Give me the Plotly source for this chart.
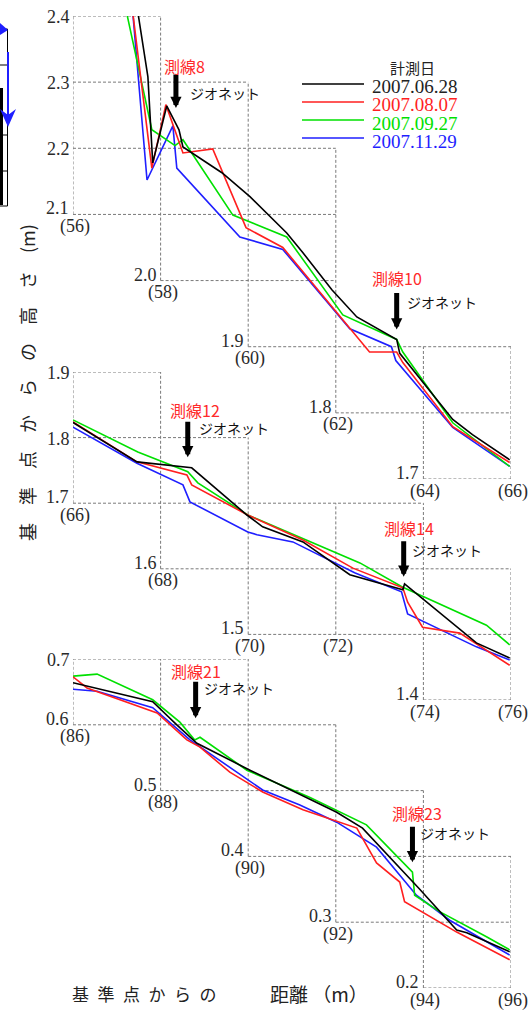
import plotly.graph_objects as go

# ---------------- data ----------------
dates = ["2007.06.28", "2007.08.07", "2007.09.27", "2007.11.29"]
colors = ["#000000", "#ff1f1f", "#00e000", "#1f1fff"]

# Section 1 : distance 56-66 m (測線8, 測線10)
s1_black_x = [57.40, 57.71, 57.82, 58.14, 58.42, 58.51, 59.40, 60.04, 60.88, 61.25, 61.91, 62.48, 63.39, 63.46, 64.67, 65.12, 65.97]
s1_black_y = [2.44, 2.308, 2.178, 2.264, 2.228, 2.202, 2.163, 2.127, 2.072, 2.042, 1.986, 1.945, 1.911, 1.890, 1.790, 1.767, 1.729]
s1_red_x = [57.30, 57.80, 58.12, 58.51, 59.19, 59.95, 60.79, 62.77, 63.39, 63.53, 64.67, 65.97]
s1_red_y = [2.44, 2.170, 2.266, 2.193, 2.199, 2.080, 2.050, 1.892, 1.892, 1.876, 1.779, 1.725]
s1_green_x = [57.11, 57.80, 58.33, 58.51, 59.65, 60.88, 62.16, 63.39, 63.53, 64.67, 65.97]
s1_green_y = [2.44, 2.228, 2.204, 2.213, 2.099, 2.066, 1.948, 1.911, 1.892, 1.785, 1.719]
s1_blue_x = [57.32, 57.69, 58.28, 58.37, 59.81, 60.79, 62.32, 63.27, 63.37, 64.67, 65.97]
s1_blue_y = [2.44, 2.152, 2.234, 2.170, 2.066, 2.047, 1.927, 1.900, 1.879, 1.778, 1.719]

# Section 2 : distance 66-76 m (測線12, 測線14)
s2_black_x = [66.00, 67.46, 68.71, 69.97, 70.33, 71.25, 72.32, 73.53, 73.57, 75.21, 75.97]
s2_black_y = [1.823, 1.763, 1.754, 1.682, 1.664, 1.641, 1.591, 1.568, 1.577, 1.487, 1.464]
s2_red_x = [66.00, 67.46, 68.60, 68.71, 69.99, 71.25, 72.39, 73.53, 73.64, 73.98, 74.83, 75.97]
s2_red_y = [1.824, 1.763, 1.743, 1.728, 1.682, 1.644, 1.601, 1.571, 1.549, 1.511, 1.502, 1.453]
s2_green_x = [66.00, 67.48, 68.62, 68.85, 69.99, 72.55, 73.53, 75.44, 75.97]
s2_green_y = [1.827, 1.778, 1.748, 1.731, 1.682, 1.609, 1.572, 1.514, 1.484]
s2_blue_x = [66.00, 67.46, 68.51, 68.67, 69.99, 70.20, 71.02, 72.43, 73.50, 73.64, 75.21, 75.97]
s2_blue_y = [1.816, 1.761, 1.728, 1.702, 1.656, 1.652, 1.641, 1.594, 1.565, 1.531, 1.481, 1.461]

# Section 3 : distance 86-96 m (測線21, 測線23)
s3_black_x = [86.00, 87.82, 88.37, 88.83, 90.04, 91.29, 92.02, 92.61, 93.89, 94.76, 94.99, 95.97]
s3_black_y = [0.664, 0.635, 0.600, 0.572, 0.531, 0.490, 0.467, 0.443, 0.352, 0.288, 0.284, 0.255]
s3_red_x = [86.00, 86.32, 87.92, 88.60, 88.90, 89.58, 90.33, 91.25, 92.48, 92.93, 93.46, 93.57, 94.76, 95.97]
s3_red_y = [0.673, 0.656, 0.618, 0.577, 0.566, 0.528, 0.498, 0.471, 0.443, 0.390, 0.361, 0.331, 0.285, 0.243]
s3_green_x = [86.00, 86.55, 87.82, 88.44, 88.78, 88.90, 89.97, 91.40, 92.70, 93.75, 93.80, 94.37, 95.44, 95.97]
s3_green_y = [0.674, 0.677, 0.638, 0.604, 0.577, 0.581, 0.531, 0.490, 0.448, 0.376, 0.341, 0.316, 0.278, 0.258]
s3_blue_x = [86.00, 86.55, 87.82, 88.67, 90.33, 91.18, 92.02, 92.93, 93.84, 93.98, 94.60, 95.97]
s3_blue_y = [0.654, 0.651, 0.626, 0.577, 0.501, 0.478, 0.452, 0.414, 0.341, 0.334, 0.303, 0.250]

# axis ranges of each section
s1_xrange, s1_yrange = [56, 66], [1.7, 2.4]
s2_xrange, s2_yrange = [66, 76], [1.4, 1.9]
s3_xrange, s3_yrange = [86, 96], [0.2, 0.7]

# staircase grid: column boundaries, column bottom / top heights
s1_cols = [56, 58, 60, 62, 64, 66]
s1_bottom = [2.1, 2.0, 1.9, 1.8, 1.7]
s1_top = [2.4, 2.3, 2.2, 1.9, 1.9]
s2_cols = [66, 68, 70, 72, 74, 76]
s2_bottom = [1.7, 1.6, 1.5, 1.5, 1.4]
s2_top = [1.9, 1.8, 1.7, 1.7, 1.6]
s3_cols = [86, 88, 90, 92, 94, 96]
s3_bottom = [0.6, 0.5, 0.4, 0.3, 0.2]
s3_top = [0.7, 0.7, 0.6, 0.5, 0.4]

# tick labels: heights on the left edge, corner heights and distances
s1_left_ticks = ["2.4", "2.3", "2.2"]
s1_corner_ticks = ["2.1", "2.0", "1.9", "1.8", "1.7", ""]
s1_dist_ticks = ["(56)", "(58)", "(60)", "(62)", "(64)", "(66)"]
s2_left_ticks = ["1.9", "1.8"]
s2_corner_ticks = ["1.7", "1.6", "1.5", "", "1.4", ""]
s2_dist_ticks = ["(66)", "(68)", "(70)", "(72)", "(74)", "(76)"]
s3_left_ticks = ["0.7"]
s3_corner_ticks = ["0.6", "0.5", "0.4", "0.3", "0.2", ""]
s3_dist_ticks = ["(86)", "(88)", "(90)", "(92)", "(94)", "(96)"]

# survey lines (測線) and geonet positions
line_names = ["測線8", "測線10", "測線12", "測線14", "測線21", "測線23"]
line_section = [1, 1, 2, 2, 3, 3]
geonet_x = [58.35, 63.39, 68.62, 73.55, 88.80, 93.75]
geonet_y = [2.261, 1.926, 1.770, 1.588, 0.610, 0.391]

# ---------------- layout helpers ----------------
W, H = 531, 1010
def px(x):
    return x / W
def py(y):
    return 1 - y / H

X_DOM = [px(73), px(511)]
Y_DOMS = [[py(479), py(16)], [py(700), py(372)], [py(988), py(659)]]

sections = [
    dict(xs=[s1_black_x, s1_red_x, s1_green_x, s1_blue_x], ys=[s1_black_y, s1_red_y, s1_green_y, s1_blue_y],
         xr=s1_xrange, yr=s1_yrange, cols=s1_cols, bot=s1_bottom, top=s1_top,
         left=s1_left_ticks, corner=s1_corner_ticks, dist=s1_dist_ticks),
    dict(xs=[s2_black_x, s2_red_x, s2_green_x, s2_blue_x], ys=[s2_black_y, s2_red_y, s2_green_y, s2_blue_y],
         xr=s2_xrange, yr=s2_yrange, cols=s2_cols, bot=s2_bottom, top=s2_top,
         left=s2_left_ticks, corner=s2_corner_ticks, dist=s2_dist_ticks),
    dict(xs=[s3_black_x, s3_red_x, s3_green_x, s3_blue_x], ys=[s3_black_y, s3_red_y, s3_green_y, s3_blue_y],
         xr=s3_xrange, yr=s3_yrange, cols=s3_cols, bot=s3_bottom, top=s3_top,
         left=s3_left_ticks, corner=s3_corner_ticks, dist=s3_dist_ticks),
]

SERIF = "Liberation Serif"
GOTHIC = "Noto Sans CJK JP"
TICK_FONT = dict(family=SERIF, size=18, color="#2a2a2a")
GRID = dict(color="#7a7a7a", width=1, dash="3px,2px")

fig = go.Figure()
shapes = []
annotations = []

for i, sec in enumerate(sections):
    n = "" if i == 0 else str(i + 1)
    xref, yref = "x" + n, "y" + n
    for k in [3, 2, 1, 0]:
        fig.add_trace(go.Scatter(
            x=sec["xs"][k], y=sec["ys"][k], mode="lines", name=dates[k],
            line=dict(color=colors[k], width=1.6), showlegend=False, hoverinfo="skip",
            xaxis=xref, yaxis=yref))
    fig.layout["xaxis" + n] = dict(domain=X_DOM, range=sec["xr"], visible=False, anchor=yref, fixedrange=True)
    fig.layout["yaxis" + n] = dict(domain=Y_DOMS[i], range=sec["yr"], visible=False, anchor=xref, fixedrange=True)

    cols, bot, top = sec["cols"], sec["bot"], sec["top"]
    ncol = len(bot)
    levels = sorted(set(round(v / 10, 1) for v in range(int(round(min(bot) * 10)), int(round(max(top) * 10)) + 1)))
    for lv in levels:
        inside = [c for c in range(ncol) if bot[c] - 1e-9 <= lv <= top[c] + 1e-9]
        if not inside:
            continue
        shapes.append(dict(type="line", xref=xref, yref=yref, x0=cols[min(inside)], x1=cols[max(inside) + 1],
                           y0=lv, y1=lv, line=GRID, layer="below"))
    for j, xv in enumerate(cols):
        adj = [c for c in (j - 1, j) if 0 <= c < ncol]
        y0 = min(bot[c] for c in adj)
        y1 = max(top[c] for c in adj)
        shapes.append(dict(type="line", xref=xref, yref=yref, x0=xv, x1=xv, y0=y0, y1=y1,
                           line=GRID, layer="below"))
    for t in sec["left"]:
        annotations.append(dict(x=cols[0], y=float(t), xref=xref, yref=yref, text=t, showarrow=False,
                                xanchor="right", yanchor="middle", xshift=-1, yshift=-1, font=TICK_FONT))
    for j, xv in enumerate(cols):
        yb = bot[min(j, ncol - 1)]
        t = sec["corner"][j]
        if t:
            annotations.append(dict(x=xv, y=yb, xref=xref, yref=yref, text=t, showarrow=False,
                                    xanchor="right", yanchor="middle", xshift=-2, yshift=6, font=TICK_FONT))
        annotations.append(dict(x=xv, y=yb, xref=xref, yref=yref, text=sec["dist"][j], showarrow=False,
                                xanchor="center", yanchor="middle", xshift=2, yshift=-12, font=TICK_FONT))

# survey line labels, geonet arrows
name_off = [(9, 42), (0, 52), (7, 47), (5, 49), (0, 47), (5, 49)]
geo_off = [(12, 15), (8, 28), (9, 29), (6, 27), (6, 30), (6, 29)]
arrow_len = [35, 38, 37, 37, 38, 37]
for i, nm in enumerate(line_names):
    n = "" if line_section[i] == 1 else str(line_section[i])
    xref, yref = "x" + n, "y" + n
    gx, gy = geonet_x[i], geonet_y[i]
    annotations.append(dict(x=gx, y=gy, xref=xref, yref=yref, text="", showarrow=True,
                            ax=0, ay=-arrow_len[i], arrowhead=2, arrowsize=0.45, arrowwidth=5,
                            arrowcolor="#000000", standoff=0))
    annotations.append(dict(x=gx, y=gy, xref=xref, yref=yref, text=nm, showarrow=False,
                            xanchor="center", yanchor="middle", xshift=name_off[i][0], yshift=name_off[i][1],
                            font=dict(family=GOTHIC, size=16, color="#ff2a2a")))
    annotations.append(dict(x=gx, y=gy, xref=xref, yref=yref, text="ジオネット", showarrow=False,
                            xanchor="left", yanchor="middle", xshift=geo_off[i][0], yshift=geo_off[i][1],
                            font=dict(family=GOTHIC, size=14, color="#111111")))

# manual legend
annotations.append(dict(x=px(412), y=py(67), xref="paper", yref="paper", text="計測日", showarrow=False,
                        xanchor="center", yanchor="middle", font=dict(family=GOTHIC, size=15, color="#222222")))
leg_y = [84, 102, 120, 138]
for k in range(4):
    shapes.append(dict(type="line", xref="paper", yref="paper", x0=px(302), x1=px(364),
                       y0=py(leg_y[k]), y1=py(leg_y[k]), line=dict(color=colors[k], width=1.6)))
    annotations.append(dict(x=px(371), y=py(leg_y[k] + 3), xref="paper", yref="paper", text=dates[k],
                            showarrow=False, xanchor="left", yanchor="middle", borderpad=0,
                            font=dict(family=SERIF, size=19, color=colors[k] if k else "#222222")))

# axis titles
annotations.append(dict(x=px(27), y=py(383), xref="paper", yref="paper",
                        text="基\u3000準\u3000点\u3000か\u3000ら\u3000の\u3000高\u3000さ\u3000(m)",
                        showarrow=False, textangle=-90, xanchor="center", yanchor="middle",
                        font=dict(family=GOTHIC, size=18, color="#222222")))
annotations.append(dict(x=px(70), y=py(993), xref="paper", yref="paper",
                        text="基\u2002準\u2002点\u2002か\u2002ら\u2002の",
                        showarrow=False, xanchor="left", yanchor="middle",
                        font=dict(family=GOTHIC, size=17, color="#222222")))
annotations.append(dict(x=px(268), y=py(993), xref="paper", yref="paper",
                        text="距離 （m）",
                        showarrow=False, xanchor="left", yanchor="middle",
                        font=dict(family=GOTHIC, size=19, color="#222222")))

# cropped neighbouring figure fragment at the left edge
frag = dict(color="#000000", width=1)
shapes += [
    dict(type="line", xref="paper", yref="paper", x0=px(7.5), x1=px(7.5), y0=py(29), y1=py(206), line=frag),
    dict(type="line", xref="paper", yref="paper", x0=0, x1=px(7.5), y0=py(29), y1=py(29), line=frag),
    dict(type="line", xref="paper", yref="paper", x0=0, x1=px(7.5), y0=py(65), y1=py(65), line=frag),
    dict(type="line", xref="paper", yref="paper", x0=0, x1=px(7.5), y0=py(135), y1=py(135), line=frag),
    dict(type="line", xref="paper", yref="paper", x0=0, x1=px(7.5), y0=py(171), y1=py(171), line=frag),
    dict(type="line", xref="paper", yref="paper", x0=0, x1=px(7.5), y0=py(206), y1=py(206), line=frag),
    dict(type="rect", xref="paper", yref="paper", x0=0, x1=px(3), y0=py(205), y1=py(88),
         fillcolor="#000000", line=dict(width=0)),
    dict(type="line", xref="paper", yref="paper", x0=px(8), x1=px(8), y0=py(52), y1=py(115),
         line=dict(color="#1f1fff", width=2)),
    dict(type="path", xref="paper", yref="paper",
         path=f"M0,{py(109)} L{px(8)},{py(127)} L{px(16)},{py(109)} L{px(8)},{py(115)} Z",
         fillcolor="#1f1fff", line=dict(width=0)),
    dict(type="path", xref="paper", yref="paper",
         path=f"M0,{py(23)} L{px(8)},{py(30)} L0,{py(35)} Z",
         fillcolor="#1f1fff", line=dict(width=0)),
]

fig.update_layout(
    width=W, height=H, margin=dict(l=0, r=0, t=0, b=0),
    paper_bgcolor="#ffffff", plot_bgcolor="rgba(0,0,0,0)",
    shapes=shapes, annotations=annotations, showlegend=False,
)

# remove the default page margin so the figure starts at the window's top-left corner
fig.write_html("out.html", config={"displayModeBar": False},
               post_script="document.body.style.margin='0';document.body.style.overflow='hidden';")
